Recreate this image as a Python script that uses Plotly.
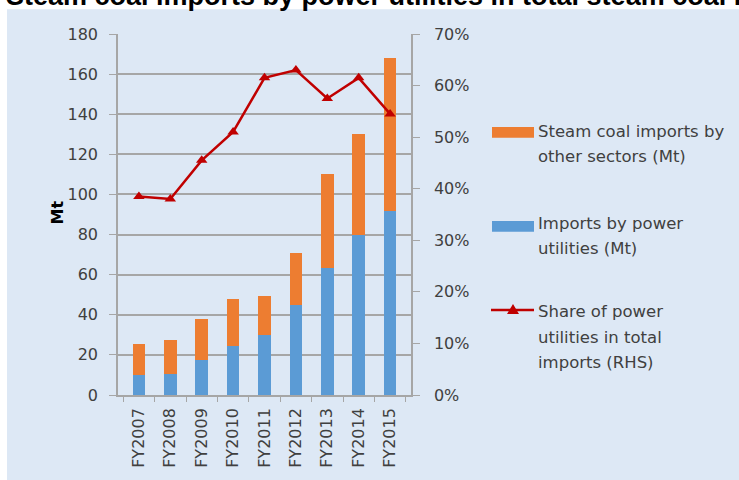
import plotly.graph_objects as go

years = ["FY2007", "FY2008", "FY2009", "FY2010", "FY2011", "FY2012", "FY2013", "FY2014", "FY2015"]
power = [9.8, 10.5, 17.5, 24.5, 30.0, 45.0, 63.5, 80.0, 91.5]
total = [25.5, 27.5, 38.0, 48.0, 49.5, 71.0, 110.0, 130.0, 168.0]
other = [round(t - p, 1) for t, p in zip(total, power)]
share = [38.5, 38.0, 45.5, 51.0, 61.5, 63.0, 57.5, 61.5, 54.5]

BLUE_BG = "#dde8f5"
ORANGE = "#ed7d31"
BLUE = "#5b9bd5"
RED = "#c00000"
GRID = "#a6a6a6"
TXT = "#404040"
FONT = "DejaVu Sans"

W, H = 739, 480
L, R, T, B = 118, 411, 34, 399

def px(x):
    return (x - L) / (R - L)

def py(y):
    return (B - y) / (B - T)

fig = go.Figure()
fig.add_trace(go.Bar(x=years, y=power, marker=dict(color=BLUE, line=dict(width=0)),
                     name="Imports by power utilities (Mt)", showlegend=False))
fig.add_trace(go.Bar(x=years, y=other, marker=dict(color=ORANGE, line=dict(width=0)),
                     name="Steam coal imports by other sectors (Mt)", showlegend=False))
fig.add_trace(go.Scatter(x=years, y=share, yaxis="y2", mode="lines+markers",
                         line=dict(color=RED, width=2.5),
                         marker=dict(symbol="triangle-up", size=10, color=RED),
                         name="Share of power utilities in total imports (RHS)", showlegend=False))

shapes = [
    dict(type="rect", xref="paper", yref="paper", x0=px(7), x1=px(745), y0=py(490), y1=py(9),
         fillcolor=BLUE_BG, line=dict(width=0), layer="below"),
    dict(type="rect", xref="paper", yref="paper", x0=px(492), x1=px(534), y0=py(139), y1=py(128),
         fillcolor=ORANGE, line=dict(width=0)),
    dict(type="rect", xref="paper", yref="paper", x0=px(492), x1=px(534), y0=py(234), y1=py(223),
         fillcolor=BLUE, line=dict(width=0)),
    dict(type="line", xref="paper", yref="paper", x0=px(491), x1=px(534), y0=py(313), y1=py(313),
         line=dict(color=RED, width=2.5)),
    dict(type="path", xref="paper", yref="paper",
         path=f"M {px(507)} {py(317)} L {px(519)} {py(317)} L {px(513)} {py(307)} Z",
         fillcolor=RED, line=dict(width=0)),
]

annotations = [
    dict(text="<b>Steam coal imports by power utilities in total steam coal imports</b>",
         xref="paper", yref="paper", x=px(4), y=py(-4), xanchor="left", yanchor="middle",
         showarrow=False, font=dict(family="Liberation Sans", size=27, color="black")),
    dict(text="<b>Mt</b>", xref="paper", yref="paper", x=px(46), y=py(215), textangle=-90,
         showarrow=False, font=dict(family=FONT, size=16, color="black")),
]
legend_lines = [
    ("Steam coal imports by", 133), ("other sectors (Mt)", 158),
    ("Imports by power", 226), ("utilities (Mt)", 251),
    ("Share of power", 315), ("utilities in total", 341), ("imports (RHS)", 366),
]
for t, y in legend_lines:
    annotations.append(dict(text=t, xref="paper", yref="paper", x=px(536), y=py(y),
                            xanchor="left", yanchor="middle", showarrow=False,
                            font=dict(family=FONT, size=16.5, color=TXT)))

fig.update_layout(
    width=W, height=H,
    margin=dict(l=L, r=W - R, t=T, b=H - B, pad=0),
    paper_bgcolor="white", plot_bgcolor="rgba(0,0,0,0)",
    barmode="stack", bargap=0.6,
    font=dict(family=FONT, size=16, color=TXT),
    shapes=shapes, annotations=annotations,
    xaxis=dict(type="category", tickangle=-90, showgrid=False, showline=True, linecolor=GRID,
               linewidth=1.5, ticks="outside", tickson="boundaries", ticklen=5, tickcolor=GRID,
               ticklabelstandoff=5, tickfont=dict(family=FONT, size=16, color=TXT)),
    yaxis=dict(range=[0, 180], dtick=20, showgrid=True, gridcolor=GRID, gridwidth=1.5,
               showline=True, linecolor=GRID, linewidth=1.5, ticks="outside", ticklen=7,
               tickcolor=GRID, zeroline=False, ticklabelstandoff=8,
               tickfont=dict(family=FONT, size=16, color=TXT)),
    yaxis2=dict(range=[0, 70], dtick=10, overlaying="y", side="right", showgrid=False,
                showline=True, linecolor=GRID, linewidth=1.5, ticks="outside", ticklen=7,
                tickcolor=GRID, ticksuffix="%", zeroline=False, ticklabelstandoff=11,
                tickfont=dict(family=FONT, size=16, color=TXT)),
)

fig.write_html("out.html", config={"displayModeBar": False},
               post_script="document.body.style.margin='0';")
